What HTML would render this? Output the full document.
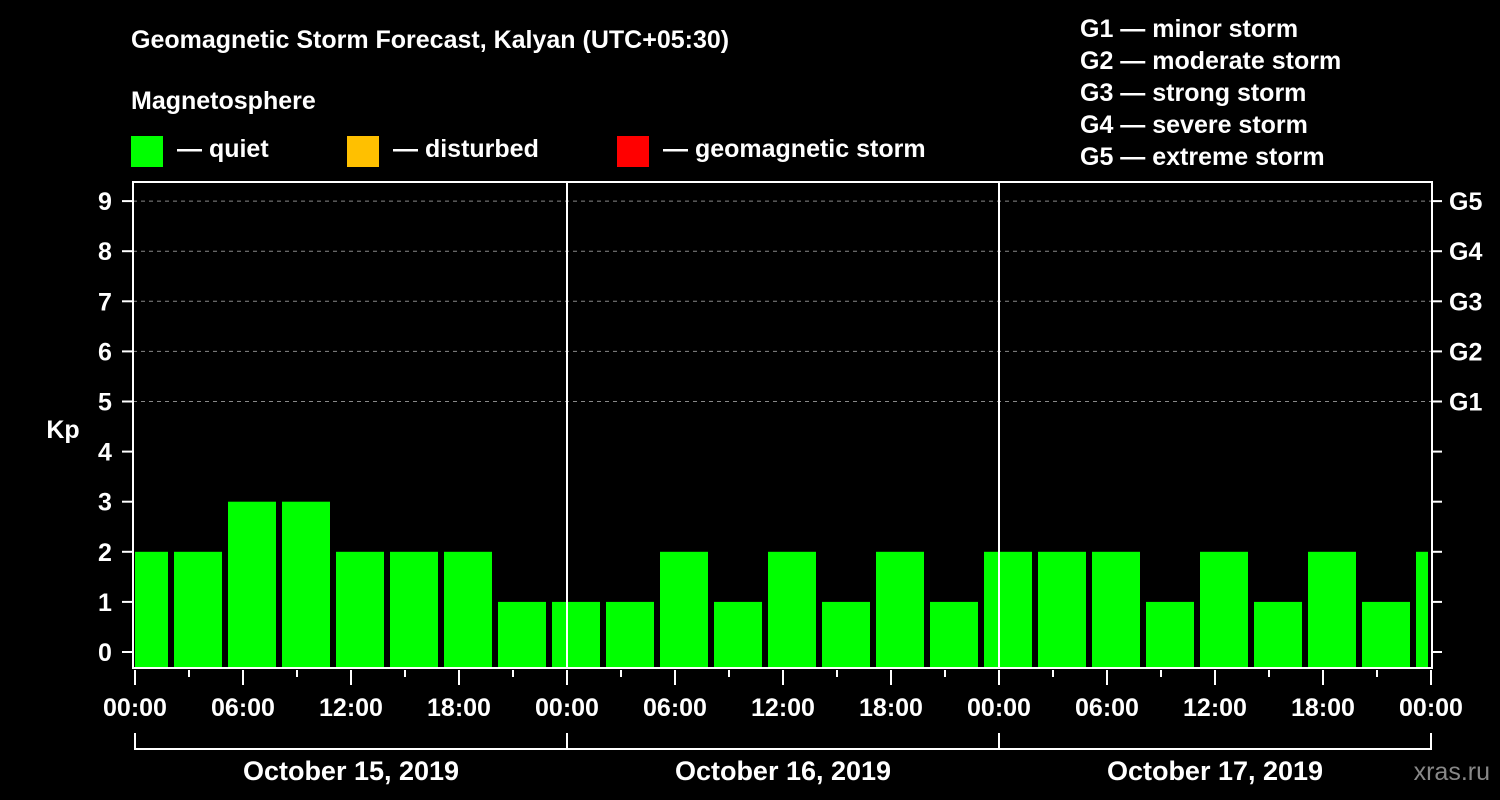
<!DOCTYPE html>
<html><head><meta charset="utf-8"><style>
body{margin:0;background:#000;}
svg{display:block;font-family:"Liberation Sans",Arial,sans-serif;font-weight:bold;}
</style></head><body>
<svg width="1500" height="800" viewBox="0 0 1500 800">
<rect x="0" y="0" width="1500" height="800" fill="#000"/>
<text x="131" y="48" fill="#fff" font-size="25">Geomagnetic Storm Forecast, Kalyan (UTC+05:30)</text>
<text x="131" y="109" fill="#fff" font-size="25">Magnetosphere</text>
<g><rect x="131" y="136" width="32" height="31" fill="#00ff00"/><text x="177" y="157" fill="#fff" font-size="25">— quiet</text></g>
<g><rect x="347" y="136" width="32" height="31" fill="#ffc000"/><text x="393" y="157" fill="#fff" font-size="25">— disturbed</text></g>
<g><rect x="617" y="136" width="32" height="31" fill="#ff0000"/><text x="663" y="157" fill="#fff" font-size="25">— geomagnetic storm</text></g>
<g fill="#fff" font-size="25">
<text x="1080" y="37">G1 — minor storm</text>
<text x="1080" y="69">G2 — moderate storm</text>
<text x="1080" y="101">G3 — strong storm</text>
<text x="1080" y="133">G4 — severe storm</text>
<text x="1080" y="165">G5 — extreme storm</text>
</g>
<text x="63" y="438" fill="#fff" font-size="25" text-anchor="middle">Kp</text>
<text x="1490" y="780" fill="#888" font-size="25" text-anchor="end" font-weight="normal">xras.ru</text>
<defs><clipPath id="pc"><rect x="135" y="183" width="1293" height="485"/></clipPath></defs>
<g id="grid"></g>
<g id="bars" clip-path="url(#pc)"></g>
<g id="axes"></g>
</svg>
<script>
const kpValues=[2,2,3,3,2,2,2,1,1,1,2,1,2,1,2,1,2,2,2,1,2,1,2,1,2];
const yTicks=[0,1,2,3,4,5,6,7,8,9];
const gLabels=["G1","G2","G3","G4","G5"];
const gLevels=[5,6,7,8,9];
const timeLabels=["00:00","06:00","12:00","18:00","00:00","06:00","12:00","18:00","00:00","06:00","12:00","18:00","00:00"];
const dateLabels=["October 15, 2019","October 16, 2019","October 17, 2019"];
const NS="http://www.w3.org/2000/svg";
const L=133,R=1432,T=182,B=668;
const y=v=>652-v*50.1;
const xh=h=>135+h*18; // hours from Oct 15 00:00
const firstBinHour=-1; // first bin start
function mk(tag,attrs,parent,text){const e=document.createElementNS(NS,tag);for(const k in attrs)e.setAttribute(k,attrs[k]);if(text!==undefined)e.textContent=text;document.getElementById(parent).appendChild(e);return e;}
yTicks.forEach(v=>{
 if(v>=5){const l=mk('line',{x1:L,x2:R,y1:y(v),y2:y(v),stroke:'#888','stroke-dasharray':'4,4','stroke-width':1},'grid');
 
 }
 const t=mk('line',{x1:122,x2:L,y1:y(v),y2:y(v),stroke:'#fff','stroke-width':2},'axes');
 
 
 const rt=mk('line',{x1:R,x2:1442,y1:y(v),y2:y(v),stroke:'#fff','stroke-width':2},'axes');
 
 
 const tx=mk('text',{x:105,y:y(v)+9,fill:'#fff','font-size':25,'text-anchor':'middle'},'axes',String(v));
 
 
});
gLevels.forEach((v,i)=>{
 const tx=mk('text',{x:1449,y:y(v)+9,fill:'#fff','font-size':25},'axes',gLabels[i]);
 
 
});
kpValues.forEach((v,i)=>{
 const x0=xh(firstBinHour+3*i);
 const r=mk('rect',{x:x0+3,y:y(v),width:48,height:B-y(v),fill:'#00ff00'},'bars');
 
 
});
[567,999].forEach(x=>{const l=mk('line',{x1:x,x2:x,y1:T,y2:B,stroke:'#fff','stroke-width':2},'axes');
 
 });
const fr=mk('rect',{x:L,y:T,width:R-L,height:B-T,fill:'none',stroke:'#fff','stroke-width':2},'axes');


for(let h=0;h<=72;h+=3){
 const major=h%6===0;
 const t=mk('line',{x1:xh(h),x2:xh(h),y1:B+2,y2:major?B+17:B+9,stroke:'#fff','stroke-width':2},'axes');
 
 
}
timeLabels.forEach((s,i)=>{
 const tx=mk('text',{x:xh(i*6),y:716,fill:'#fff','font-size':25,'text-anchor':'middle'},'axes',s);
 
 
});
const br=mk('path',{d:`M${xh(0)} 733V749H${xh(72)}V733M${xh(24)} 733V749M${xh(48)} 733V749`,stroke:'#fff','stroke-width':2,fill:'none'},'axes');


dateLabels.forEach((s,i)=>{
 const tx=mk('text',{x:xh(i*24+12),y:780,fill:'#fff','font-size':27,'text-anchor':'middle'},'axes',s);
 
 
});
</script>
</body></html>
